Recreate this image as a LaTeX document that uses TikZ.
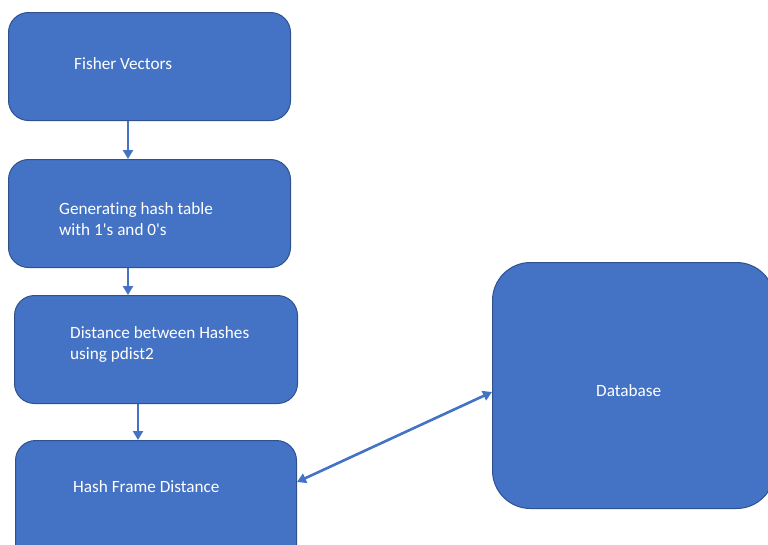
\documentclass[tikz,border=0pt]{standalone}
\usepackage{fontspec}
\setmainfont{Carlito}[Ligatures={NoCommon}]
\usetikzlibrary{arrows.meta}
\definecolor{boxfill}{HTML}{4472C4}
\definecolor{boxline}{HTML}{2F528F}
\definecolor{arrowcol}{HTML}{4472C4}
\begin{document}
\begin{tikzpicture}[x=1pt,y=-1pt,
  procbox/.style={draw=boxline, line width=1pt, fill=boxfill, rounded corners=20pt},
  dbbox/.style={draw=boxline, line width=1pt, fill=boxfill, rounded corners=38pt},
  boxtext/.style={text=white, font=\fontsize{17.2}{21}\selectfont, anchor=west, align=left, inner sep=0pt},
  flow/.style={draw=arrowcol, line width=2.6pt, -{Triangle[width=10pt,length=9pt]}},
  both/.style={draw=arrowcol, line width=2.6pt, {Triangle[width=10pt,length=9pt]}-{Triangle[width=10pt,length=9pt]}}]
  \useasboundingbox (0,0) rectangle (768,544);
  \clip (0,0) rectangle (768,544);

  % process boxes
  \node[procbox, minimum width=282pt, minimum height=108pt, anchor=north west, inner sep=0pt] (fv) at (8,12) {};
  \node[procbox, minimum width=282pt, minimum height=108pt, anchor=north west, inner sep=0pt] (gh) at (8,159) {};
  \node[procbox, minimum width=283pt, minimum height=108pt, anchor=north west, inner sep=0pt] (dh) at (14,295) {};
  \node[procbox, minimum width=281pt, minimum height=124pt, anchor=north west, inner sep=0pt] (hf) at (15,440) {};
  \node[dbbox, minimum width=282pt, minimum height=246pt, anchor=north west, inner sep=0pt] (db) at (492,262) {};

  % labels
  \node[boxtext] (fvt) at (74,64) {Fisher Vectors};
  \node[boxtext] (ght) at (59,219) {Generating hash table\\with 1\textquotesingle s and 0\textquotesingle s};
  \node[boxtext] (dht) at (70,344) {Distance between Hashes\\using pdist2};
  \node[boxtext] (hft) at (73,487) {Hash Frame Distance};
  \node[boxtext] (dbt) at (596,391) {Database};

  % connectors
  \draw[flow] (fv.south -| 128,0) -- (gh.north -| 128,0);
  \draw[flow] (gh.south -| 128,0) -- (dh.north -| 128,0);
  \draw[flow] (dh.south -| 138,0) -- (hf.north -| 138,0);
  \draw[both] (hf.east |- 0,482) -- (db.west |- 0,392);
\end{tikzpicture}
\end{document}
